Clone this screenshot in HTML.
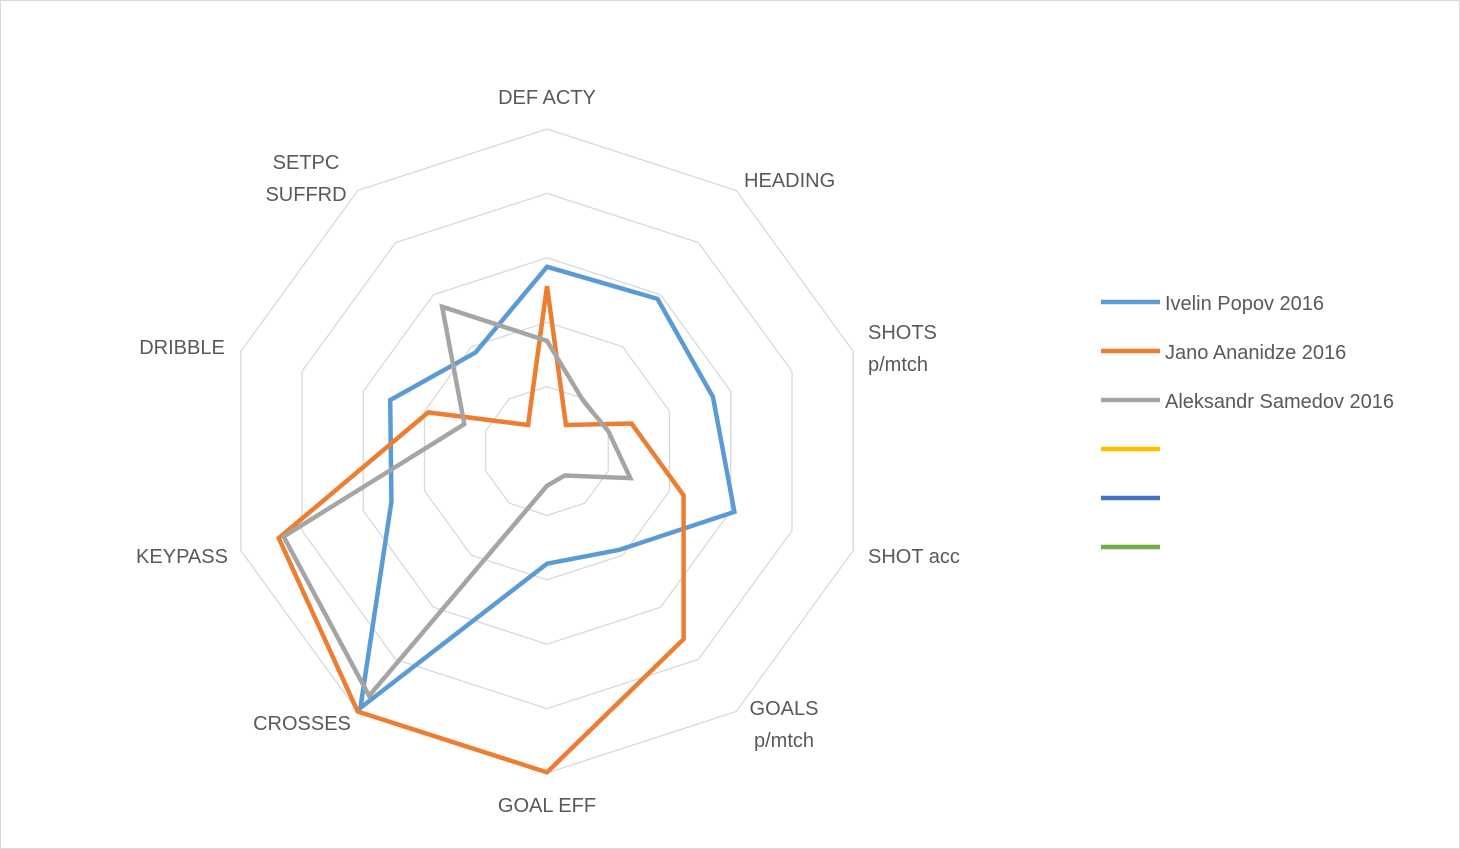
<!DOCTYPE html>
<html><head><meta charset="utf-8"><style>
body{margin:0;background:#fff;}
svg{display:block;font-family:"Liberation Sans",sans-serif;}
</style></head><body>
<svg width="1460" height="849">
<rect x="0.5" y="0.5" width="1459" height="848" fill="#fff" stroke="#d9d9d9"/>
<g id="grid"></g><g id="series"></g><g id="labels"></g><g id="legend"></g>
</svg>
<script>
const categories=["DEF ACTY","HEADING","SHOTS|p/mtch","SHOT acc","GOALS|p/mtch","GOAL EFF","CROSSES","KEYPASS","DRIBBLE","SETPC|SUFFRD"];
const popov=[2.86,2.92,2.71,3.06,1.9,1.75,4.93,2.54,2.56,1.89];
const ananidze=[2.56,0.5,1.38,2.23,3.61,4.99,5,4.38,1.94,0.5];
const samedov=[1.71,0.96,1.0,1.36,0.47,0.54,4.7,4.3,1.35,2.77];
const seriesNames=["Ivelin Popov 2016","Jano Ananidze 2016","Aleksandr Samedov 2016","","",""];
const seriesColors=["#5b9bd5","#ed7d31","#a5a5a5","#ffc000","#4472c4","#70ad47"];
const maxV=5, rings=[1,2,3,4,5];
const cx=547,cy=451,R=322;
// label layout (x, anchor, first baseline)
const labelLayout=[[547,'middle',104],[744,'start',187],[868,'start',339],[868,'start',563],[784,'middle',715],[547,'middle',812],[302,'middle',730],[182,'middle',563],[182,'middle',354],[306,'middle',169]];
const NS="http://www.w3.org/2000/svg";
function pt(i,v){const a=i*2*Math.PI/categories.length;const r=v/maxV*R;return [cx+r*Math.sin(a),cy-r*Math.cos(a)];}
function mk(t,attrs,parent){const e=document.createElementNS(NS,t);for(const k in attrs)e.setAttribute(k,attrs[k]);parent.appendChild(e);return e;}
const grid=document.getElementById('grid');
rings.forEach(v=>{const p=categories.map((c,i)=>pt(i,v).join(',')).join(' ');
const e=mk('polygon',{points:p,fill:'none',stroke:'#d9d9d9','stroke-width':1.3},grid);

});
const data=[popov,ananidze,samedov];
const sg=document.getElementById('series');
data.forEach((d,s)=>{const p=d.map((v,i)=>pt(i,v).join(',')).join(' ');
const e=mk('polygon',{points:p,fill:'none',stroke:seriesColors[s],'stroke-width':4.5,'stroke-linejoin':'miter'},sg);

});
const lg=document.getElementById('labels');
categories.forEach((c,i)=>{const [x,anchor,y]=labelLayout[i];
const lines=c.split('|');
const t=mk('text',{x:x,y:y,'text-anchor':anchor,'font-size':20,fill:'#595959'},lg);


lines.forEach((l,j)=>{const ts=mk('tspan',{x:x,dy:j?32:0},t);ts.textContent=l;});});
const leg=document.getElementById('legend');
seriesColors.forEach((c,i)=>{const y=302+i*49;
const g=mk('g',{},leg);


mk('line',{x1:1101,x2:1160,y1:y,y2:y,stroke:c,'stroke-width':4.5},g);
const t=mk('text',{x:1165,y:y+8,'font-size':20,fill:'#595959'},g);t.textContent=seriesNames[i];});
</script>
</body></html>
